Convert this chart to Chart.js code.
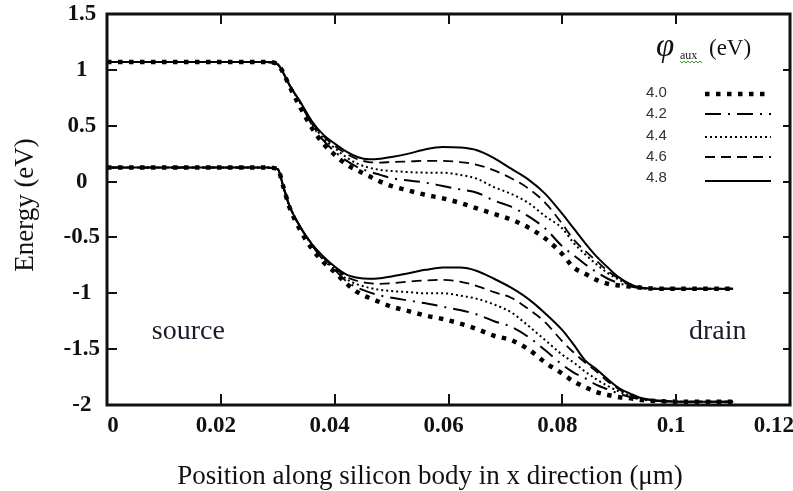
<!DOCTYPE html>
<html>
<head>
  <title>Band diagram vs auxiliary gate work function</title>
  <script src="https://cdn.jsdelivr.net/npm/chart.js"></script>
  <style>
    body { margin: 0; background: #fff; }
  </style>
</head>
<body>
  <canvas id="canvas" width="793" height="491"></canvas>
  <script>
    // position along the body (um)
    var xPos = [0, 0.01, 0.02, 0.028, 0.030, 0.031, 0.032, 0.034, 0.036, 0.038,
                0.040, 0.042, 0.044, 0.046, 0.048, 0.050, 0.053, 0.056, 0.059, 0.062,
                0.065, 0.068, 0.071, 0.074, 0.077, 0.080, 0.082, 0.084, 0.086, 0.088,
                0.090, 0.092, 0.094, 0.097, 0.100, 0.105, 0.110];

    // conduction band edge (eV), one array per phi_aux
    var cb40 = [1.07, 1.07, 1.07, 1.07, 1.05, 0.97, 0.86, 0.66, 0.48, 0.34,
                0.24, 0.155, 0.10, 0.05, 0.00, -0.04, -0.08, -0.12, -0.15, -0.19,
                -0.24, -0.29, -0.34, -0.41, -0.51, -0.65, -0.77, -0.825, -0.88, -0.915,
                -0.93, -0.94, -0.95, -0.96, -0.96, -0.96, -0.96];
    var cb42 = [1.07, 1.07, 1.07, 1.07, 1.05, 0.97, 0.87, 0.70, 0.51, 0.37,
                0.27, 0.19, 0.13, 0.09, 0.06, 0.03, 0.01, -0.01, -0.04, -0.07,
                -0.10, -0.17, -0.225, -0.31, -0.42, -0.58, -0.66, -0.74, -0.81, -0.87,
                -0.91, -0.94, -0.955, -0.96, -0.96, -0.96, -0.96];
    var cb44 = [1.07, 1.07, 1.07, 1.07, 1.05, 0.97, 0.87, 0.70, 0.52, 0.39,
                0.30, 0.22, 0.16, 0.125, 0.105, 0.095, 0.085, 0.08, 0.08, 0.06,
                0.025, -0.05, -0.11, -0.19, -0.31, -0.42, -0.55, -0.65, -0.74, -0.82,
                -0.88, -0.93, -0.95, -0.96, -0.96, -0.96, -0.96];
    var cb46 = [1.07, 1.07, 1.07, 1.07, 1.05, 0.97, 0.87, 0.71, 0.53, 0.41,
                0.32, 0.25, 0.20, 0.175, 0.17, 0.175, 0.18, 0.185, 0.185, 0.175,
                0.15, 0.10, 0.03, -0.06, -0.19, -0.38, -0.52, -0.62, -0.71, -0.80,
                -0.87, -0.92, -0.95, -0.96, -0.96, -0.96, -0.96];
    var cb48 = [1.07, 1.07, 1.07, 1.07, 1.05, 0.97, 0.87, 0.71, 0.54, 0.42,
                0.34, 0.27, 0.22, 0.20, 0.205, 0.22, 0.25, 0.29, 0.31, 0.305,
                0.28, 0.21, 0.115, 0.02, -0.11, -0.29, -0.42, -0.55, -0.67, -0.77,
                -0.86, -0.92, -0.95, -0.96, -0.96, -0.96, -0.96];

    // valence band edge (eV)
    var vb40 = [0.125, 0.125, 0.125, 0.125, 0.11, -0.05, -0.22, -0.44, -0.60, -0.72,
                -0.81, -0.91, -0.99, -1.04, -1.08, -1.12, -1.16, -1.20, -1.23, -1.27,
                -1.32, -1.38, -1.42, -1.50, -1.62, -1.72, -1.79, -1.84, -1.885, -1.91,
                -1.93, -1.94, -1.955, -1.965, -1.97, -1.97, -1.97];
    var vb42 = [0.125, 0.125, 0.125, 0.125, 0.11, -0.05, -0.21, -0.41, -0.57, -0.70,
                -0.79, -0.89, -0.95, -0.99, -1.02, -1.04, -1.065, -1.09, -1.12, -1.15,
                -1.19, -1.25, -1.30, -1.39, -1.51, -1.64, -1.71, -1.76, -1.82, -1.86,
                -1.90, -1.93, -1.95, -1.965, -1.97, -1.97, -1.97];
    var vb44 = [0.125, 0.125, 0.125, 0.125, 0.11, -0.05, -0.21, -0.41, -0.56, -0.69,
                -0.78, -0.87, -0.92, -0.95, -0.97, -0.98, -0.99, -1.00, -1.00, -1.02,
                -1.05, -1.10, -1.17, -1.29, -1.42, -1.55, -1.62, -1.70, -1.77, -1.83,
                -1.88, -1.92, -1.95, -1.965, -1.97, -1.97, -1.97];
    var vb46 = [0.125, 0.125, 0.125, 0.125, 0.11, -0.05, -0.21, -0.41, -0.56, -0.68,
                -0.77, -0.85, -0.89, -0.91, -0.915, -0.91, -0.895, -0.885, -0.88, -0.895,
                -0.935, -0.99, -1.04, -1.14, -1.26, -1.43, -1.53, -1.62, -1.70, -1.79,
                -1.86, -1.91, -1.945, -1.96, -1.97, -1.97, -1.97];
    var vb48 = [0.125, 0.125, 0.125, 0.125, 0.11, -0.05, -0.21, -0.41, -0.56, -0.67,
                -0.76, -0.83, -0.86, -0.87, -0.865, -0.85, -0.82, -0.79, -0.77, -0.77,
                -0.80, -0.87, -0.95, -1.05, -1.18, -1.33, -1.46, -1.60, -1.68, -1.77,
                -1.85, -1.90, -1.94, -1.96, -1.97, -1.97, -1.97];

    var phiLabels = ['4.0', '4.2', '4.4', '4.6', '4.8'];
    var xTicks = [0, 0.02, 0.04, 0.06, 0.08, 0.1, 0.12];
    var yTicks = [1.5, 1, 0.5, 0, -0.5, -1, -1.5, -2];

    // line style for each phi_aux value
    var styles = [
      { width: 4.5, dash: [4.5, 6.5] },    // 4.0  square dots
      { width: 2,   dash: [16, 7, 2, 7] }, // 4.2  dash-dot
      { width: 2,   dash: [2, 3] },        // 4.4  fine dots
      { width: 1.8, dash: [10, 6] },       // 4.6  dashes
      { width: 2,   dash: [] }             // 4.8  solid
    ];

    var cbSets = [cb40, cb42, cb44, cb46, cb48];
    var vbSets = [vb40, vb42, vb44, vb46, vb48];

    function toPoints(arr) {
      return xPos.map(function (x, i) { return { x: x, y: arr[i] }; });
    }

    var datasets = [];
    [cbSets, vbSets].forEach(function (set, band) {
      set.forEach(function (arr, k) {
        datasets.push({
          label: phiLabels[k] + (band === 0 ? ' Ec' : ' Ev'),
          data: toPoints(arr),
          borderColor: '#000',
          borderWidth: styles[k].width,
          borderDash: styles[k].dash,
          borderCapStyle: 'butt',
          pointRadius: 0,
          fill: false,
          cubicInterpolationMode: 'monotone'
        });
      });
    });

    var serif = '"Liberation Serif", "Times New Roman", serif';
    var sans = '"Liberation Sans", Arial, sans-serif';

    // frame, inward ticks, titles, region labels and legend
    var decor = {
      id: 'decor',
      afterDatasetsDraw: function (chart) {
        var c = chart.ctx, a = chart.chartArea;
        var sx = chart.scales.x, sy = chart.scales.y;
        c.save();
        c.strokeStyle = '#111';
        c.lineWidth = 3;
        c.strokeRect(a.left, a.top, a.right - a.left, a.bottom - a.top);
        c.lineWidth = 2;
        c.beginPath();
        xTicks.slice(1, -1).forEach(function (v) {
          var px = Math.round(sx.getPixelForValue(v));
          c.moveTo(px, a.bottom); c.lineTo(px, a.bottom - 11);
          c.moveTo(px, a.top); c.lineTo(px, a.top + 10);
        });
        yTicks.slice(1, -1).forEach(function (v) {
          var py = Math.round(sy.getPixelForValue(v));
          c.moveTo(a.left, py); c.lineTo(a.left + 10, py);
          c.moveTo(a.right, py); c.lineTo(a.right - 7, py);
        });
        c.stroke();
        c.restore();
      },
      afterDraw: function (chart) {
        var c = chart.ctx, a = chart.chartArea;
        var sx = chart.scales.x, sy = chart.scales.y;
        c.save();
        c.fillStyle = '#111';
        c.textBaseline = 'alphabetic';

        // x tick labels; the last one sits against the right edge
        c.font = 'bold 23px ' + serif;
        xTicks.forEach(function (v, i) {
          var px = sx.getPixelForValue(v);
          var last = i === xTicks.length - 1;
          c.textAlign = last ? 'right' : 'center';
          var lx = last ? chart.width + 1 : (i === 0 ? px + 6 : px - 5);
          c.fillText(String(v), lx, a.bottom + 27);
        });

        c.textAlign = 'center';
        c.font = '27px ' + serif;
        c.fillText('Position along silicon body in x direction (\u03bcm)', 430, 484);

        c.save();
        c.translate(33, 205);
        c.rotate(-Math.PI / 2);
        c.fillText('Energy (eV)', 0, 0);
        c.restore();

        c.fillStyle = '#1a1a2a';
        c.font = '28px ' + serif;
        c.fillText('source', sx.getPixelForValue(0.0143), sy.getPixelForValue(-1.41));
        c.fillText('drain', sx.getPixelForValue(0.1073), sy.getPixelForValue(-1.41));

        // legend title
        c.fillStyle = '#111';
        c.textAlign = 'left';
        c.font = 'italic 33px ' + serif;
        c.fillText('\u03c6', 656, 56);
        c.font = '12px ' + serif;
        c.fillText('aux', 680, 59);
        c.strokeStyle = '#3a9a3a';
        c.lineWidth = 1;
        c.beginPath();
        for (var i = 0; i <= 22; i += 2) {
          c.lineTo(680 + i, i % 4 === 0 ? 61 : 63);
        }
        c.stroke();
        c.font = '23px ' + serif;
        c.fillText('(eV)', 709, 55);

        // legend entries
        var rows = [93, 114, 136, 157, 178];
        var lineY = [94, 114, 137, 157, 181];
        c.font = '15px ' + sans;
        c.textBaseline = 'middle';
        phiLabels.forEach(function (lab, k) {
          c.fillStyle = '#333';
          c.fillText(lab, 646, rows[k]);
          c.strokeStyle = '#000';
          c.lineWidth = styles[k].width;
          c.setLineDash(styles[k].dash);
          c.lineCap = 'butt';
          c.beginPath();
          c.moveTo(705, lineY[k]);
          c.lineTo(771, lineY[k]);
          c.stroke();
        });
        c.restore();
      }
    };

    var ctx = document.getElementById('canvas').getContext('2d');
    var chart = new Chart(ctx, {
      type: 'line',
      data: { datasets: datasets },
      options: {
        responsive: false,
        animation: false,
        devicePixelRatio: 1,
        layout: { padding: { top: 14, right: 3, left: 0, bottom: 0 } },
        plugins: { legend: { display: false }, tooltip: { enabled: false } },
        scales: {
          x: {
            type: 'linear',
            min: 0,
            max: 0.12,
            grid: { display: false, drawTicks: false },
            border: { display: false },
            afterBuildTicks: function (scale) {
              scale.ticks = xTicks.map(function (v) { return { value: v }; });
            },
            afterFit: function (scale) {
              scale.height = 86;
              scale.paddingLeft = 0;
              scale.paddingRight = 0;
            },
            ticks: { display: false }
          },
          y: {
            min: -2,
            max: 1.5,
            grid: { display: false, drawTicks: false },
            border: { display: false },
            afterBuildTicks: function (scale) {
              scale.ticks = yTicks.map(function (v) { return { value: v }; });
            },
            afterFit: function (scale) {
              scale.width = 107;
              scale.paddingTop = 0;
              scale.paddingBottom = 0;
            },
            ticks: {
              crossAlign: 'center',
              padding: 7,
              color: '#111',
              font: { family: serif, size: 23, weight: 'bold' },
              callback: function (v) { return String(+v.toFixed(1)); }
            }
          }
        }
      },
      plugins: [decor]
    });
  </script>
</body>
</html>
